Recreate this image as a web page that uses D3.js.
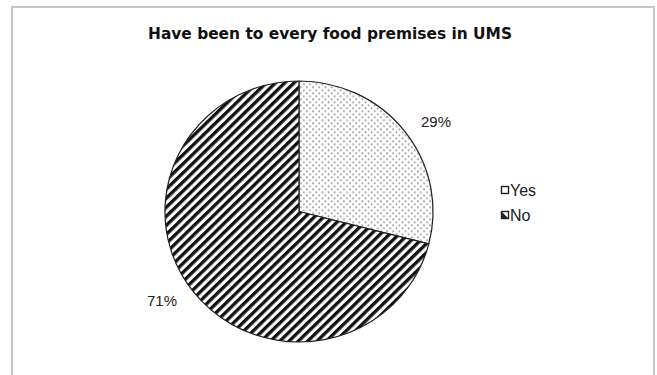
<!DOCTYPE html>
<html>
<head>
<meta charset="utf-8">
<script src="https://cdn.jsdelivr.net/npm/d3@7"></script>
<style>
  html, body { margin: 0; padding: 0; background: #fff; }
  svg { display: block; }
</style>
</head>
<body>
<svg id="chart" width="657" height="375"></svg>
<script>
// Survey answers and their shares (percent)
const categories = ["Yes", "No"];
const values = [29, 71];
const valueLabels = ["29%", "71%"];
const title = "Have been to every food premises in UMS";

const W = 657, H = 375;
const svg = d3.select("#chart");
const defs = svg.append("defs");

// Dotted fill for "Yes"
const dots = defs.append("pattern")
  .attr("id", "dots").attr("patternUnits", "userSpaceOnUse")
  .attr("width", 6).attr("height", 6);
dots.append("rect").attr("width", 6).attr("height", 6).attr("fill", "#fff");
dots.append("rect").attr("x", 1).attr("y", 1).attr("width", 1.5).attr("height", 1.5).attr("fill", "#7a7a7a");
dots.append("rect").attr("x", 4).attr("y", 4).attr("width", 1.5).attr("height", 1.5).attr("fill", "#7a7a7a");

// Diagonal stripe fill for "No"
const stripes = defs.append("pattern")
  .attr("id", "stripes").attr("patternUnits", "userSpaceOnUse")
  .attr("width", 6.4).attr("height", 6.4)
  .attr("patternTransform", "rotate(-45)");
stripes.append("rect").attr("width", 6.4).attr("height", 6.4).attr("fill", "#fff");
stripes.append("rect").attr("x", 0).attr("y", 0).attr("width", 6.4).attr("height", 3.3).attr("fill", "#111");

const fills = { Yes: "url(#dots)", No: "url(#stripes)" };

// Chart frame
svg.append("rect")
  .attr("x", 12).attr("y", 7).attr("width", 642).attr("height", H + 20)
  .attr("fill", "#fff").attr("stroke", "#c6c6c6").attr("stroke-width", 2);

// Title
svg.append("text")
  .attr("x", 330).attr("y", 39)
  .attr("text-anchor", "middle")
  .attr("font-family", "'DejaVu Sans', Verdana, sans-serif")
  .attr("font-weight", "bold")
  .attr("font-size", 16.5)
  .attr("textLength", 364)
  .attr("lengthAdjust", "spacingAndGlyphs")
  .attr("fill", "#111")
  .text(title);

// Pie
const cx = 299, cy = 211.5, r = 130.5, sx = 1.027;
const data = categories.map((c, i) => ({ cat: c, value: values[i], label: valueLabels[i] }));
const pie = d3.pie().sort(null).value(d => d.value);
const arcs = pie(data);
const arc = d3.arc().innerRadius(0).outerRadius(r);

const g = svg.append("g").attr("transform", `translate(${cx},${cy}) scale(${sx},1)`);
g.selectAll("path.slice")
  .data(arcs)
  .join("path")
  .attr("class", "slice")
  .attr("d", arc)
  .attr("fill", d => fills[d.data.cat])
  .attr("stroke", "#222")
  .attr("stroke-width", 1.2)
  .attr("stroke-linejoin", "round");

// Value labels outside the pie, nudged a little clockwise
const labelR = r * 1.23;
svg.append("g")
  .selectAll("text")
  .data(arcs)
  .join("text")
  .attr("x", d => {
    const a = (d.startAngle + d.endAngle) / 2 + 0.07;
    return cx + Math.sin(a) * labelR * sx;
  })
  .attr("y", d => {
    const a = (d.startAngle + d.endAngle) / 2 + 0.07;
    return cy - Math.cos(a) * labelR;
  })
  .attr("text-anchor", "middle")
  .attr("dy", "0.35em")
  .attr("font-family", "'Liberation Sans', Arial, sans-serif")
  .attr("font-size", 15)
  .attr("fill", "#222")
  .text(d => d.data.label);

// Legend
const legend = svg.append("g").attr("transform", "translate(500,183)");
const item = legend.selectAll("g")
  .data(categories)
  .join("g")
  .attr("transform", (d, i) => `translate(0,${i * 25})`);
item.append("rect")
  .attr("x", 1.5).attr("y", 3.5).attr("width", 7).attr("height", 7)
  .attr("fill", "#fff").attr("stroke", "#222").attr("stroke-width", 1.4);
item.filter(d => d === "No").append("path")
  .attr("d", "M1.5,3.5 L8.5,10.5 L1.5,10.5 Z")
  .attr("fill", "#222");
item.append("text")
  .attr("x", 10).attr("y", 7).attr("dy", "0.37em")
  .attr("font-family", "'Liberation Sans', Arial, sans-serif")
  .attr("font-size", 16)
  .attr("fill", "#222")
  .text(d => d);
</script>
</body>
</html>
